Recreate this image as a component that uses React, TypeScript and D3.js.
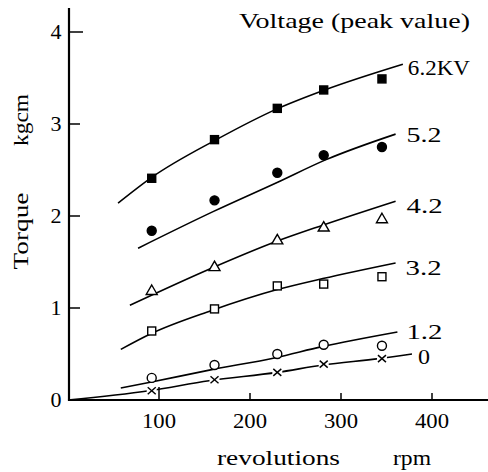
import React from 'react';
import * as d3 from 'd3';

// measured points (rpm, torque kgcm) for each voltage
const RPM = [92, 161, 230, 281, 345];
const V62 = [2.41, 2.83, 3.17, 3.37, 3.49];
const V52 = [1.84, 2.17, 2.47, 2.66, 2.75];
const V42 = [1.19, 1.45, 1.74, 1.88, 1.97];
const V32 = [0.75, 0.99, 1.24, 1.26, 1.34];
const V12 = [0.24, 0.38, 0.50, 0.60, 0.59];
const V0 = [0.10, 0.22, 0.30, 0.39, 0.45];

// fitted curves: [rpm, torque]
const FIT62: [number, number][] = [[55, 2.14], [92, 2.42], [163, 2.83], [231, 3.17], [282, 3.37], [368, 3.65]];
const FIT52: [number, number][] = [[77, 1.65], [160, 2.05], [231, 2.37], [283, 2.61], [360, 2.89]];
const FIT42: [number, number][] = [[68, 1.03], [157, 1.43], [228, 1.72], [280, 1.9], [360, 2.16]];
const FIT32: [number, number][] = [[58, 0.55], [91, 0.72], [157, 0.97], [230, 1.2], [280, 1.32], [360, 1.49]];
const FIT12: [number, number][] = [[58, 0.13], [89, 0.19], [158, 0.33], [228, 0.46], [279, 0.58], [362, 0.74]];
const FIT0: [number, number][] = [[0, 0], [89, 0.1], [155, 0.21], [230, 0.3], [280, 0.38], [342, 0.45], [378, 0.5]];

const LABELS = ['6.2KV', '5.2', '4.2', '3.2', '1.2', '0'];
const X_TICKS = [100, 200, 300, 400];
const Y_TICKS = [0, 1, 2, 3, 4];

const FONT = "'Liberation Serif', 'Times New Roman', serif";

export default function App() {
  const x = d3.scaleLinear().domain([0, 400]).range([68, 432]);
  const y = d3.scaleLinear().domain([0, 4]).range([400, 32]);
  const line = d3.line<[number, number]>()
    .x(d => x(d[0]))
    .y(d => y(d[1]))
    .curve(d3.curveMonotoneX);

  const fits = [FIT62, FIT52, FIT42, FIT32, FIT12, FIT0];
  // label offsets from curve end, and label widths
  const labelPos = [
    { dx: 5, dy: 11, w: 62 }, { dx: 11, dy: 8, w: 35 }, { dx: 11, dy: 12, w: 36 },
    { dx: 10, dy: 12, w: 36 }, { dx: 9, dy: 7, w: 36 }, { dx: 6, dy: 10, w: 12 },
  ];

  const square = (cx: number, cy: number, filled: boolean, k: string) => (
    <rect key={k} x={cx - 4} y={cy - 4} width={8} height={8}
      fill={filled ? '#000' : '#fff'} stroke="#000" strokeWidth={1.4} />
  );
  const circle = (cx: number, cy: number, filled: boolean, k: string) => (
    <circle key={k} cx={cx} cy={cy} r={4.5} fill={filled ? '#000' : '#fff'} stroke="#000" strokeWidth={1.4} />
  );
  const tri = (cx: number, cy: number, k: string) => (
    <path key={k} d={`M${cx},${cy - 5.5}L${cx + 5.5},${cy + 4}L${cx - 5.5},${cy + 4}Z`}
      fill="#fff" stroke="#000" strokeWidth={1.4} />
  );
  const cross = (cx: number, cy: number, k: string) => (
    <g key={k} stroke="#000" strokeWidth={1.4}>
      <rect x={cx - 5} y={cy - 4} width={10} height={8} fill="#fff" stroke="none" />
      <line x1={cx - 4} y1={cy - 3.5} x2={cx + 4} y2={cy + 3.5} />
      <line x1={cx - 4} y1={cy + 3.5} x2={cx + 4} y2={cy - 3.5} />
    </g>
  );

  return (
    <div style={{ position: 'absolute', left: 0, top: 0 }}>
      <svg width={488} height={472} style={{ display: 'block', background: '#fff', fontFamily: FONT }}>
        {/* axes */}
        <line x1={69} y1={8} x2={69} y2={401} stroke="#000" strokeWidth={2.2} />
        <line x1={68} y1={400} x2={488} y2={400} stroke="#000" strokeWidth={2.2} />
        {Y_TICKS.filter(t => t > 0).map(t => (
          <line key={'yt' + t} x1={69} x2={t === 4 ? 83 : 80} y1={y(t)} y2={y(t)} stroke="#000" strokeWidth={1.5} />
        ))}
        {X_TICKS.map(t => (
          <line key={'xt' + t} x1={x(t)} x2={x(t)} y1={400} y2={t === 100 ? 387 : 393} stroke="#000" strokeWidth={1.5} />
        ))}
        {Y_TICKS.map(t => (
          <text key={'yl' + t} x={56} y={y(t) + 7} textAnchor="middle" fontSize={22}>{t}</text>
        ))}
        {X_TICKS.map(t => (
          <text key={'xl' + t} x={x(t)} y={428} textAnchor="middle" fontSize={21}
            textLength={34} lengthAdjust="spacingAndGlyphs">{t}</text>
        ))}
        <text x={217} y={465} fontSize={22} textLength={123} lengthAdjust="spacingAndGlyphs">revolutions</text>
        <text x={393} y={465} fontSize={21} textLength={38} lengthAdjust="spacingAndGlyphs">rpm</text>
        <text transform="translate(28,231) rotate(-90)" textAnchor="middle" fontSize={21}
          textLength={77} lengthAdjust="spacingAndGlyphs">Torque</text>
        <text transform="translate(28,120) rotate(-90)" textAnchor="middle" fontSize={21}
          textLength={52} lengthAdjust="spacingAndGlyphs">kgcm</text>
        <text x={239} y={28} fontSize={21} textLength={231} lengthAdjust="spacingAndGlyphs">Voltage (peak value)</text>

        {/* fitted curves */}
        {fits.map((f, i) => (
          <path key={'f' + i} d={line(f) ?? ''} fill="none" stroke="#000" strokeWidth={1.6} />
        ))}
        {fits.map((f, i) => {
          const end = f[f.length - 1];
          const p = labelPos[i];
          return (
            <text key={'l' + i} x={x(end[0]) + p.dx} y={y(end[1]) + p.dy}
              fontSize={22} textLength={p.w} lengthAdjust="spacingAndGlyphs">
              {LABELS[i]}
            </text>
          );
        })}

        {/* markers */}
        {RPM.map((r, i) => square(x(r), y(V62[i]), true, 's62' + i))}
        {RPM.map((r, i) => circle(x(r), y(V52[i]), true, 'c52' + i))}
        {RPM.map((r, i) => tri(x(r), y(V42[i]), 't42' + i))}
        {RPM.map((r, i) => square(x(r), y(V32[i]), false, 's32' + i))}
        {RPM.map((r, i) => circle(x(r), y(V12[i]), false, 'c12' + i))}
        {RPM.map((r, i) => cross(x(r), y(V0[i]), 'x0' + i))}
      </svg>
    </div>
  );
}
